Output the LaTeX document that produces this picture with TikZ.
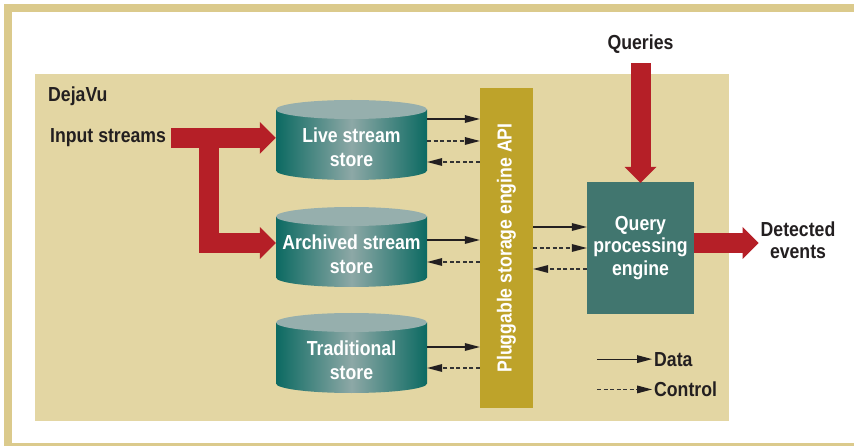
\documentclass[tikz,border=0pt]{standalone}
\usepackage{fontspec}
\setmainfont{Liberation Sans}[FakeStretch=0.87]
\usetikzlibrary{arrows.meta,calc}
\definecolor{framecol}{HTML}{DBCA8C}
\definecolor{panelcol}{HTML}{E3D6A3}
\definecolor{redcol}{HTML}{B51F27}
\definecolor{apicol}{HTML}{BEA32A}
\definecolor{qpecol}{HTML}{41766F}
\definecolor{cyldark}{HTML}{0C6A62}
\definecolor{cyllight}{HTML}{8DA8A6}
\definecolor{cyltopcol}{HTML}{96AFAD}
\definecolor{inkcol}{HTML}{231F20}
\definecolor{dashcol}{HTML}{333333}
\tikzset{
  lbl/.style={inner sep=2pt, text=inkcol, font=\fontsize{20.3}{21.5}\selectfont\bfseries},
  cyltext/.style={inner sep=0pt, minimum width=151pt, text=white, align=center,
    font=\fontsize{20.3}{24}\selectfont\bfseries},
  qpebox/.style={fill=qpecol, inner sep=0pt, minimum width=107pt, minimum height=132pt,
    text=white, align=center, font=\fontsize{20.3}{22.5}\selectfont\bfseries},
  apibar/.style={fill=apicol, inner sep=0pt, minimum width=53pt, minimum height=320pt},
  bigred/.style={draw=redcol, line width=20pt,
    -{Triangle[length=16pt, width=32pt, line width=0pt]}},
  datal/.style={draw=inkcol, line width=1.1pt,
    -{Triangle[length=15pt, width=8pt, line width=0pt]}},
  ctrll/.style={draw=dashcol, line width=1.1pt, dash pattern=on 4pt off 2.5pt,
    -{Triangle[length=15pt, width=8pt, line width=0pt, fill=inkcol]}},
  cylshade/.style={left color=cyldark, right color=cyldark, middle color=cyllight},
}
\newcommand\cylshape[1]{%
  \shade[cylshade] (276,#1+9.5) rectangle (427,#1+70.5)
    (351.5,#1+70.5) ellipse [x radius=75.5pt, y radius=9.5pt];
  \fill[cyltopcol] (351.5,#1+9.5) ellipse [x radius=75.5pt, y radius=9.5pt];}
\begin{document}
\begin{tikzpicture}[x=1pt, y=-1pt]
\useasboundingbox (0,0) rectangle (854,446);
% frame and panel
\fill[framecol] (4,4) rectangle (854,446);
\fill[white] (12,12) rectangle (854,443);
\fill[panelcol] (35,74) rectangle (729,421);
% cylinders
\cylshape{100}
\cylshape{207}
\cylshape{313}
\node[cyltext] (live) at (351.5,147) {Live stream\\store};
\node[cyltext] (arch) at (351.5,254) {Archived stream\\store};
\node[cyltext] (trad) at (351.5,360) {Traditional\\store};
% API bar
\node[apibar] (api) at (506.5,248) {};
\node[lbl, text=white, rotate=90] (apilbl) at (api.center) {Pluggable storage engine API};
% query processing engine
\node[qpebox] (qpe) at (640.5,248) {Query\\processing\\engine};
% labels
\node[lbl, inner sep=0pt, anchor=base west] (dejavu) at (48,101.7) {DejaVu};
\node[lbl, anchor=base west] (input) at (48,142.7) {Input streams};
\node[lbl] (queries) at (640.5,44) {Queries};
\node[lbl, align=center] (det) at (798,240.3) {Detected\\events};
% big red arrows
\coordinate (branch) at ([xshift=41pt]input.east);
\draw[bigred] (branch) |- ([yshift=11pt]arch.west);
\draw[bigred, shorten <=3pt] (input.east) -- (input.east -| live.west);
\draw[bigred, shorten <=7.5pt] (queries.south) -- ([yshift=-1pt]qpe.north);
\draw[bigred] ([yshift=5pt]qpe.east) -- ([yshift=5pt]qpe.east -| det.west);
% store <-> API arrows
\draw[datal] ([yshift=28pt]live.east) -- ([yshift=28pt]live.east -| api.west);
\draw[ctrll] ([yshift=6pt]live.east) -- ([yshift=6pt]live.east -| api.west);
\draw[ctrll] ([yshift=-15pt]live.east -| api.west) -- ([yshift=-15pt]live.east);
\draw[datal] ([yshift=14pt]arch.east) -- ([yshift=14pt]arch.east -| api.west);
\draw[ctrll] ([yshift=-8pt]arch.east -| api.west) -- ([yshift=-8pt]arch.east);
\draw[datal] ([yshift=13pt]trad.east) -- ([yshift=13pt]trad.east -| api.west);
\draw[ctrll] ([yshift=-8pt]trad.east -| api.west) -- ([yshift=-8pt]trad.east);
% API <-> QPE arrows
\draw[datal] ([yshift=21pt]qpe.west -| api.east) -- ([yshift=21pt]qpe.west);
\draw[ctrll] ([yshift=0pt]qpe.west -| api.east) -- ([yshift=0pt]qpe.west);
\draw[ctrll] ([yshift=-21pt]qpe.west) -- ([yshift=-21pt]qpe.west -| api.east);
% legend
\node[lbl, anchor=base west] (data) at (652,366) {Data};
\node[lbl, anchor=base west] (ctrl) at (652,396.7) {Control};
\draw[datal] ([xshift=-55pt]data.west) -- (data.west);
\draw[ctrll] ([xshift=-55pt]ctrl.west) -- (ctrl.west);
\end{tikzpicture}
\end{document}
